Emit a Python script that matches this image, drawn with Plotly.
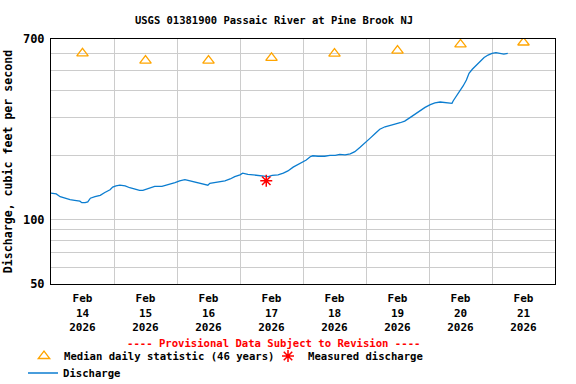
import plotly.graph_objects as go

# ---- data ----
discharge_time = [
    "2026-02-14 00:00", "2026-02-14 02:00", "2026-02-14 03:30", "2026-02-14 05:15", "2026-02-14 07:15",
    "2026-02-14 09:00", "2026-02-14 11:00", "2026-02-14 11:45", "2026-02-14 13:00", "2026-02-14 14:00",
    "2026-02-14 15:00", "2026-02-14 16:45", "2026-02-14 18:45", "2026-02-14 20:30", "2026-02-14 22:30",
    "2026-02-14 23:30", "2026-02-15 00:45", "2026-02-15 02:15", "2026-02-15 04:15", "2026-02-15 06:00",
    "2026-02-15 08:00", "2026-02-15 09:45", "2026-02-15 11:00", "2026-02-15 13:00", "2026-02-15 15:30",
    "2026-02-15 18:15", "2026-02-15 21:15", "2026-02-15 23:15", "2026-02-16 01:00", "2026-02-16 03:00",
    "2026-02-16 05:00", "2026-02-16 06:45", "2026-02-16 08:45", "2026-02-16 10:45", "2026-02-16 11:45",
    "2026-02-16 12:30", "2026-02-16 14:30", "2026-02-16 16:15", "2026-02-16 18:15", "2026-02-16 20:15",
    "2026-02-16 22:00", "2026-02-17 00:00", "2026-02-17 01:00", "2026-02-17 03:00", "2026-02-17 05:45",
    "2026-02-17 08:15", "2026-02-17 10:45", "2026-02-17 12:15", "2026-02-17 14:30", "2026-02-17 16:30",
    "2026-02-17 18:15", "2026-02-17 20:15", "2026-02-17 22:00", "2026-02-18 00:00", "2026-02-18 01:15",
    "2026-02-18 02:45", "2026-02-18 03:45", "2026-02-18 05:45", "2026-02-18 07:30", "2026-02-18 08:15",
    "2026-02-18 10:15", "2026-02-18 12:15", "2026-02-18 14:00", "2026-02-18 16:00", "2026-02-18 18:00",
    "2026-02-18 19:45", "2026-02-18 21:45", "2026-02-18 23:30", "2026-02-19 01:30", "2026-02-19 03:30",
    "2026-02-19 05:15", "2026-02-19 07:15", "2026-02-19 09:15", "2026-02-19 11:00", "2026-02-19 13:00",
    "2026-02-19 14:45", "2026-02-19 16:45", "2026-02-19 18:45", "2026-02-19 20:30", "2026-02-19 22:30",
    "2026-02-20 00:30", "2026-02-20 02:15", "2026-02-20 04:15", "2026-02-20 06:00", "2026-02-20 08:00",
    "2026-02-20 08:45", "2026-02-20 09:15", "2026-02-20 10:15", "2026-02-20 11:45", "2026-02-20 13:00",
    "2026-02-20 14:15", "2026-02-20 15:15", "2026-02-20 16:30", "2026-02-20 18:00", "2026-02-20 19:30",
    "2026-02-20 21:00", "2026-02-20 22:30", "2026-02-21 00:00", "2026-02-21 01:30", "2026-02-21 03:00",
    "2026-02-21 04:30", "2026-02-21 06:00",
]
discharge_cfs = [
    133, 132, 128, 126, 124, 123, 122, 120, 120, 121,
    126, 128, 130, 134, 138, 142, 144, 145, 144, 141,
    139, 137, 137, 140, 143, 143, 146, 149, 152, 154,
    152, 150, 148, 146, 145, 148, 149, 150, 152, 155,
    159, 162, 165, 163, 162, 160, 159, 161, 162, 165,
    169, 176, 181, 187, 190, 197, 199, 198, 198, 198,
    200, 200, 202, 201, 203, 208, 218, 229, 240, 253,
    265, 272, 277, 280, 284, 289, 300, 312, 323, 335,
    345, 352, 355, 354, 352, 350, 360, 376, 397, 422,
    450, 484, 505, 528, 552, 574, 589, 600, 604, 600,
    595, 600,
]

median_dates = ["2026-02-14 12:00", "2026-02-15 12:00", "2026-02-16 12:00", "2026-02-17 12:00",
                "2026-02-18 12:00", "2026-02-19 12:00", "2026-02-20 12:00", "2026-02-21 12:00"]
median_cfs = [600, 555, 555, 571, 598, 618, 660, 674]

measured_time = ["2026-02-17 10:00"]
measured_cfs = [152]

day_labels = ["Feb<br>14<br>2026", "Feb<br>15<br>2026", "Feb<br>16<br>2026", "Feb<br>17<br>2026",
              "Feb<br>18<br>2026", "Feb<br>19<br>2026", "Feb<br>20<br>2026", "Feb<br>21<br>2026"]
day_starts = ["2026-02-15", "2026-02-16", "2026-02-17", "2026-02-18",
              "2026-02-19", "2026-02-20", "2026-02-21"]

y_grid_vals = [50, 60, 70, 80, 90, 100, 200, 300, 400, 500, 600, 700]
y_grid_text = ["50", "", "", "", "", "100", "", "", "", "", "", "700"]

FONT = "DejaVu Sans Mono"

fig = go.Figure()

fig.add_trace(go.Scatter(
    x=discharge_time, y=discharge_cfs, mode="lines", name="Discharge",
    line=dict(color="#0b7dd0", width=1.3), legend="legend2",
))
fig.add_trace(go.Scatter(
    x=median_dates, y=median_cfs, mode="markers", name="Median daily statistic (46 years)",
    marker=dict(symbol="triangle-up-open", size=10, color="#ffa500", line=dict(width=1.3, color="#ffa500")),
    legend="legend",
))
fig.add_trace(go.Scatter(
    x=measured_time, y=measured_cfs, mode="markers", name="Measured discharge",
    marker=dict(symbol="asterisk-open", size=10, color="#ff0000", line=dict(width=1.5, color="#ff0000")),
    legend="legend3",
))

legend_font = dict(size=10.6, family=FONT, weight="bold")

fig.update_layout(
    width=576, height=384,
    margin=dict(l=51, r=21, t=39, b=100, autoexpand=False),
    paper_bgcolor="white", plot_bgcolor="white",
    font=dict(family=FONT, size=11, color="black", weight="bold"),
    title=dict(text="USGS 01381900 Passaic River at Pine Brook NJ",
               x=274 / 576, xanchor="center", xref="container",
               y=1 - 20 / 384, yanchor="middle", yref="container",
               font=dict(family=FONT, size=10.5, weight="bold")),
    showlegend=True,
    legend=dict(x=(24 - 51) / 504, xanchor="left", y=(284 - 356) / 245, yanchor="middle",
                bgcolor="rgba(0,0,0,0)", font=legend_font, itemwidth=30),
    legend2=dict(x=(23 - 51) / 504, xanchor="left", y=(284 - 373) / 245, yanchor="middle",
                 bgcolor="rgba(0,0,0,0)", font=legend_font, itemwidth=30),
    legend3=dict(x=(268 - 51) / 504, xanchor="left", y=(284 - 356) / 245, yanchor="middle",
                 bgcolor="rgba(0,0,0,0)", font=legend_font, itemwidth=30),
    annotations=[dict(
        text="---- Provisional Data Subject to Revision ----",
        xref="paper", yref="paper", x=(273 - 51) / 504, y=(284 - 343) / 245,
        xanchor="center", yanchor="middle", showarrow=False,
        font=dict(color="#ff0000", size=10.6, family=FONT, weight="bold"),
    )],
)

fig.update_xaxes(
    type="date", range=["2026-02-14", "2026-02-22"],
    tickmode="array", tickvals=median_dates, ticktext=day_labels,
    showgrid=False, ticks="", showline=True, linecolor="black", linewidth=1, mirror=True,
    tickfont=dict(size=11, family=FONT, weight="bold"), ticklabelstandoff=4,
    minor=dict(tickmode="array", tickvals=day_starts, showgrid=True, gridcolor="#cccccc",
               gridwidth=1, ticks=""),
    zeroline=False, automargin=False,
)
fig.update_yaxes(
    type="log", range=[1.69897, 2.845098],
    tickmode="array", tickvals=y_grid_vals, ticktext=y_grid_text,
    showgrid=True, gridcolor="#cccccc", gridwidth=1, ticks="",
    showline=True, linecolor="black", linewidth=1, mirror=True,
    tickfont=dict(size=12, family=FONT, weight="bold"), ticklabelstandoff=3,
    title=dict(text="Discharge, cubic feet per second", standoff=7,
               font=dict(size=11.6, family=FONT, weight="bold")),
    zeroline=False, automargin=False,
)

fig.write_html("out.html", config={"displayModeBar": False},
               post_script="document.body.style.margin='0px';document.body.style.padding='0px';")
